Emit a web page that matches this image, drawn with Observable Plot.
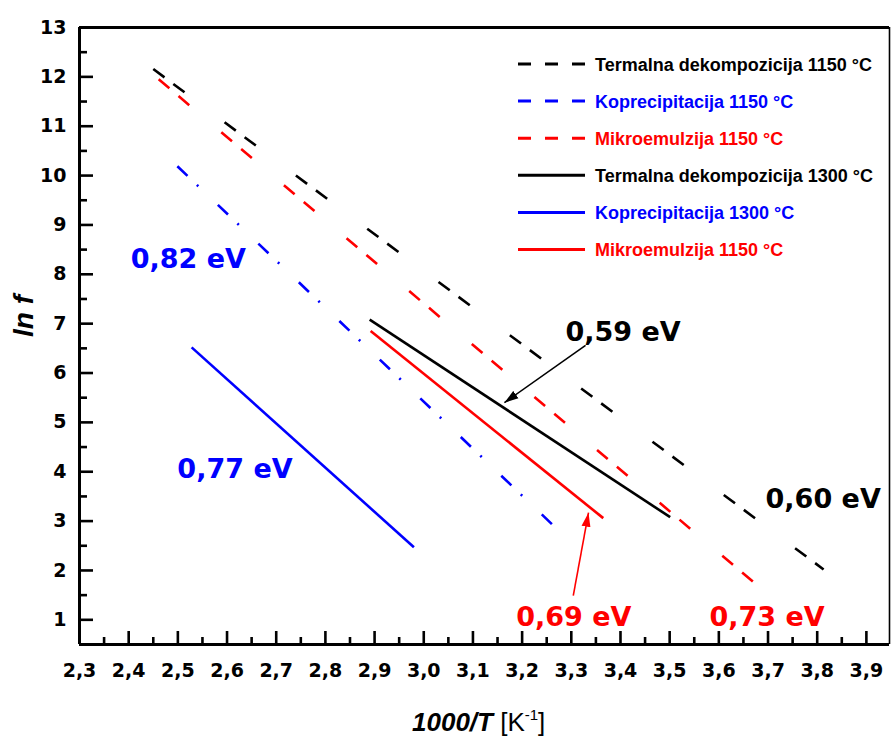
<!DOCTYPE html>
<html>
<head>
<meta charset="utf-8">
<script src="https://cdn.jsdelivr.net/npm/d3@7"></script>
<script src="https://cdn.jsdelivr.net/npm/@observablehq/plot@0.6"></script>
<style>
  html, body { margin: 0; padding: 0; background: #ffffff; }
  #chart { width: 891px; height: 736px; }
</style>
</head>
<body>
<div id="chart"></div>
<script>
// ---------- data ----------
const seriesNames = [
  "Termalna dekompozicija 1150 °C",
  "Koprecipitacija 1150 °C",
  "Mikroemulzija 1150 °C",
  "Termalna dekompozicija 1300 °C",
  "Koprecipitacija 1300 °C",
  "Mikroemulzija 1150 °C"
];
const seriesColors = ["#000000", "#0000ff", "#ff0000", "#000000", "#0000ff", "#ff0000"];
const xStart = [2.450, 2.499, 2.461, 2.890, 2.528, 2.892];
const yStart = [12.16, 10.19, 11.95, 7.08, 6.52, 6.85];
const xEnd   = [3.813, 3.271, 3.672, 3.501, 2.980, 3.365];
const yEnd   = [2.02, 2.84, 1.75, 3.08, 2.47, 3.06];

const energyLabels = ["0,82 eV", "0,59 eV", "0,77 eV", "0,60 eV", "0,69 eV", "0,73 eV"];
const energyX      = [2.404, 3.288, 2.499, 3.695, 3.188, 3.581];
const energyY      = [8.12, 6.64, 3.88, 3.26, 0.865, 0.865];
const energyColors = ["#0000ff", "#000000", "#0000ff", "#000000", "#ff0000", "#ff0000"];

const arrowX1 = [3.329, 3.304];
const arrowY1 = [6.56, 1.49];
const arrowX2 = [3.164, 3.335];
const arrowY2 = [5.40, 3.17];
const arrowColors = ["#000000", "#ff0000"];

const xTickValues = [2.3, 2.4, 2.5, 2.6, 2.7, 2.8, 2.9, 3.0, 3.1, 3.2, 3.3, 3.4, 3.5, 3.6, 3.7, 3.8, 3.9];
const xMinorValues = [2.35, 2.45, 2.55, 2.65, 2.75, 2.85, 2.95, 3.05, 3.15, 3.25, 3.35, 3.45, 3.55, 3.65, 3.75, 3.85];
const yTickValues = [1, 2, 3, 4, 5, 6, 7, 8, 9, 10, 11, 12, 13];
const yMinorValues = [1.5, 2.5, 3.5, 4.5, 5.5, 6.5, 7.5, 8.5, 9.5, 10.5, 11.5, 12.5];

const xDomain = [2.3, 3.947];
const yDomain = [0.5, 13];

// ---------- styles (not data) ----------
const dashStyles = ["14,11,14,50", "14,13,2,27", "14,12,14,42", null, null, null];
const legendDash = ["13,14", "13,14", "13,14", null, null, null];

const W = 891, H = 736, mL = 79, mT = 27, mR = 2, mB = 92;
const plotW = W - mL - mR, plotH = H - mT - mB;
const tickFont = "DejaVu Sans";
const fmt = d => d.toFixed(1).replace(".", ",");

function filledArrow(color) {
  const ns = "http://www.w3.org/2000/svg";
  const m = document.createElementNS(ns, "marker");
  m.setAttribute("viewBox", "-14 -5 14 10");
  m.setAttribute("markerWidth", "14");
  m.setAttribute("markerHeight", "10");
  m.setAttribute("markerUnits", "userSpaceOnUse");
  m.setAttribute("orient", "auto");
  m.setAttribute("refX", "0");
  m.setAttribute("refY", "0");
  const p = document.createElementNS(ns, "path");
  p.setAttribute("d", "M-14,-4.5L0,0L-14,4.5Z");
  p.setAttribute("fill", color);
  p.setAttribute("stroke", "none");
  m.appendChild(p);
  return m;
}

function build(markerEnd) {
  const marks = [];
  seriesNames.forEach((name, i) => {
    const pts = [
      {x: xStart[i], y: yStart[i]},
      {x: xEnd[i], y: yEnd[i]}
    ];
    const opts = {x: "x", y: "y", stroke: seriesColors[i], strokeWidth: 2.6, strokeLinecap: "butt"};
    if (dashStyles[i]) opts.strokeDasharray = dashStyles[i];
    marks.push(Plot.line(pts, opts));
  });
  arrowX1.forEach((_, i) => {
    marks.push(Plot.link([i], {
      x1: j => arrowX1[j], y1: j => arrowY1[j], x2: j => arrowX2[j], y2: j => arrowY2[j],
      stroke: arrowColors[i], strokeWidth: 1.6, markerEnd
    }));
  });
  energyLabels.forEach((t, i) => {
    marks.push(Plot.text([i], {
      x: j => energyX[j], y: j => energyY[j], text: j => energyLabels[j],
      fill: energyColors[i], fontSize: 27, fontWeight: "bold", fontFamily: "DejaVu Sans",
      textAnchor: "start", lineAnchor: "bottom"
    }));
  });
  marks.push(Plot.ruleY([yDomain[1]], {stroke: "#000", strokeWidth: 3}));
  marks.push(Plot.ruleY([yDomain[0]], {stroke: "#000", strokeWidth: 3}));
  marks.push(Plot.ruleX([xDomain[0]], {stroke: "#000", strokeWidth: 3}));
  marks.push(Plot.ruleX([xDomain[1]], {stroke: "#000", strokeWidth: 1.6}));
  marks.push(Plot.tickX(xTickValues, {x: d => d, insetTop: plotH - 13, stroke: "#000", strokeWidth: 2.6}));
  marks.push(Plot.tickX(xMinorValues, {x: d => d, insetTop: plotH - 7, stroke: "#000", strokeWidth: 2.6}));
  marks.push(Plot.tickY(yTickValues, {y: d => d, insetRight: plotW - 14, stroke: "#000", strokeWidth: 2.6}));
  marks.push(Plot.tickY(yMinorValues, {y: d => d, insetRight: plotW - 8, stroke: "#000", strokeWidth: 2.6}));
  marks.push(Plot.text(xTickValues, {
    x: d => d, frameAnchor: "bottom", dy: 26, text: d => fmt(d),
    fontSize: 19, fontWeight: "bold", fontFamily: tickFont, fill: "#000", lineAnchor: "middle"
  }));
  marks.push(Plot.text(yTickValues, {
    y: d => d, frameAnchor: "left", dx: -13, text: d => String(d), textAnchor: "end",
    fontSize: 19, fontWeight: "bold", fontFamily: tickFont, fill: "#000", lineAnchor: "middle"
  }));
  return Plot.plot({
    width: W, height: H,
    marginLeft: mL, marginTop: mT, marginRight: mR, marginBottom: mB,
    x: {domain: xDomain, axis: null},
    y: {domain: yDomain, axis: null},
    style: {background: "#ffffff", overflow: "visible"},
    marks
  });
}

let chart;
try { chart = build(filledArrow); } catch (e) { chart = build("arrow"); }
document.getElementById("chart").appendChild(chart);

// ---------- titles and legend ----------
const svg = d3.select(chart);

svg.append("text")
  .attr("transform", "translate(33,316) rotate(-90)")
  .attr("text-anchor", "middle")
  .attr("font-family", "Liberation Sans, Arial, sans-serif")
  .attr("font-size", 28).attr("font-weight", "bold").attr("font-style", "italic")
  .attr("fill", "#000")
  .text("ln f");

const xt = svg.append("text")
  .attr("x", 412).attr("y", 731)
  .attr("text-anchor", "start")
  .attr("font-family", "Liberation Sans, Arial, sans-serif")
  .attr("font-size", 26).attr("fill", "#000");
xt.append("tspan").attr("font-weight", "bold").attr("font-style", "italic").text("1000/T");
xt.append("tspan").text(" [K");
xt.append("tspan").attr("font-size", 15).attr("dy", -11).text("-1");
xt.append("tspan").attr("dy", 11).text("]");

const lg = svg.append("g").attr("text-anchor", "start");
seriesNames.forEach((name, i) => {
  const cy = 64 + i * 37.1;
  const ln = lg.append("line")
    .attr("x1", 518).attr("x2", 585).attr("y1", cy).attr("y2", cy)
    .attr("stroke", seriesColors[i]).attr("stroke-width", 3);
  if (legendDash[i]) ln.attr("stroke-dasharray", legendDash[i]);
  lg.append("text")
    .attr("x", 595).attr("y", cy + 6.5)
    .attr("text-anchor", "start")
    .attr("font-family", "Liberation Sans, Arial, sans-serif")
    .attr("font-size", 18).attr("font-weight", "bold")
    .attr("fill", seriesColors[i])
    .text(name);
});
</script>
</body>
</html>
